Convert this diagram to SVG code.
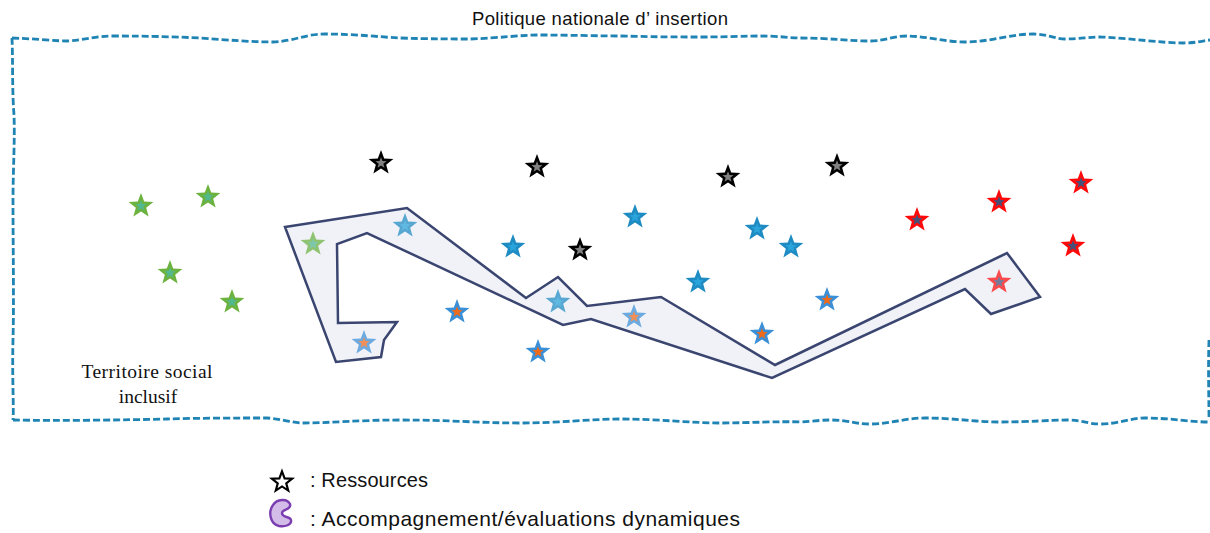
<svg xmlns="http://www.w3.org/2000/svg" xmlns:xlink="http://www.w3.org/1999/xlink" width="1210" height="533" viewBox="0 0 1210 533">
<style>
.border{fill:none;stroke:#1F84B4;stroke-width:2.8;stroke-dasharray:7 3}
.zone{fill:#F0F2F8;stroke:#3A4570;stroke-width:2.5;stroke-linejoin:miter}
.sans{font-family:"Liberation Sans",Arial,sans-serif;fill:#111}
.serif{font-family:"Liberation Serif","Times New Roman",serif;fill:#111}
.gO{fill:#6CB23E}.gI{fill:#52B890}
.kO{fill:#000}.kI{fill:#808080}
.bO{fill:#1E8BC3}.bI{fill:#2AA4DA}
.oO{fill:#3A8FD6}.oI{fill:#F06A1A}
.rO{fill:#FF0A0A}.rI{fill:#44507A}
.faded{opacity:0.72}
</style>
<defs>
<path id="star" d="M0,-13 L3.2,-4.4 L12.36,-4.02 L5.17,1.68 L7.64,10.52 L0,5.44 L-7.64,10.52 L-5.17,1.68 L-12.36,-4.02 L-3.2,-4.4 Z"/>
<path id="istar" d="M0,-13 L3.2,-4.4 L12.36,-4.02 L5.17,1.68 L7.64,10.52 L0,5.44 L-7.64,10.52 L-5.17,1.68 L-12.36,-4.02 L-3.2,-4.4 Z" transform="scale(0.45)"/>
</defs>

<g id="title"><text class="sans" x="600" y="25" font-size="18.5" text-anchor="middle" textLength="256">Politique nationale d’ insertion</text></g>

<g id="territoire-border">
<path class="border" d="M12,38 C40,39 55,41 67,41 C85,40 95,36 113,36 C150,36 180,37 200,38 C230,40 250,42 273,42 C295,41 305,34 325,34 C355,34 380,37 400,38 C430,39 455,39 470,39 C500,38 520,35 540,35 C570,35 600,36 620,36 C660,37 680,37 700,37 C730,37 745,36 760,36 C780,36 790,38 800,38 C830,38 850,41 870,41 C885,41 893,36 907,36 C925,36 945,42 965,42 C990,42 1010,34 1033,34 C1048,34 1055,39 1065,39 C1080,39 1088,37 1100,37 C1130,38 1160,43 1183,43 C1195,43 1202,41 1210,40"/>
<path class="border" d="M12,38 C13,60 12,90 14,115 C15,140 13,170 13,200 C13,250 14,300 13,340 C12,380 14,405 13,420"/>
<path class="border" d="M13,420 C60,421 120,420 167,419 C200,418 240,418 267,418 C282,419 290,422 300,423 C330,423 360,420 400,420 C450,420 480,423 520,423 C560,423 590,419 620,419 C660,419 690,423 720,423 C750,423 780,421 800,422 C815,421 822,420 830,420 C848,420 855,424 870,424 C890,424 905,418 925,418 C955,418 975,422 1000,422 C1030,422 1050,420 1067,420 C1082,420 1088,424 1100,424 C1118,424 1130,418 1145,418 C1170,418 1190,422 1210,422"/>
<path class="border" d="M1209,340 C1208,370 1209,400 1209,420"/>
</g>

<g id="territoire-label">
<text class="serif" x="147" y="378" font-size="19.5" text-anchor="middle" textLength="131">Territoire social</text>
<text class="serif" x="148" y="403" font-size="19.5" text-anchor="middle">inclusif</text>
</g>

<g id="accompagnement">
<path class="zone" d="M285,227 L407,208 L526,298 L558,277 L587,306 L661,297 L775,365 L1007,253 L1040,297 L991,314 L965,289 L772,378 L591,319 L563,325 L367,233 L337,244 L338,323 L397,322 L384,340 L381,357 L336,362 Z"/>
</g>

<g id="stars-green">
<g id="g1" transform="translate(141,206)"><use href="#star" class="gO"/><use href="#istar" class="gI"/></g>
<g id="g2" transform="translate(208,197)"><use href="#star" class="gO"/><use href="#istar" class="gI"/></g>
<g id="g3" transform="translate(170,273)"><use href="#star" class="gO"/><use href="#istar" class="gI"/></g>
<g id="g4" transform="translate(232,302)"><use href="#star" class="gO"/><use href="#istar" class="gI"/></g>
<g id="g5" class="faded" transform="translate(313,244)"><use href="#star" class="gO"/><use href="#istar" class="gI"/></g>
</g>

<g id="stars-black">
<g id="k1" transform="translate(381,163)"><use href="#star" class="kO"/><use href="#istar" class="kI"/></g>
<g id="k2" transform="translate(537,167)"><use href="#star" class="kO"/><use href="#istar" class="kI"/></g>
<g id="k3" transform="translate(580,250)"><use href="#star" class="kO"/><use href="#istar" class="kI"/></g>
<g id="k4" transform="translate(728,177)"><use href="#star" class="kO"/><use href="#istar" class="kI"/></g>
<g id="k5" transform="translate(837,166)"><use href="#star" class="kO"/><use href="#istar" class="kI"/></g>
</g>

<g id="stars-blue">
<g id="b1" class="faded" transform="translate(405,226)"><use href="#star" class="bO"/><use href="#istar" class="bI"/></g>
<g id="b2" transform="translate(513,247)"><use href="#star" class="bO"/><use href="#istar" class="bI"/></g>
<g id="b3" class="faded" transform="translate(558,302)"><use href="#star" class="bO"/><use href="#istar" class="bI"/></g>
<g id="b4" transform="translate(635,217)"><use href="#star" class="bO"/><use href="#istar" class="bI"/></g>
<g id="b5" transform="translate(698,282)"><use href="#star" class="bO"/><use href="#istar" class="bI"/></g>
<g id="b6" transform="translate(757,229)"><use href="#star" class="bO"/><use href="#istar" class="bI"/></g>
<g id="b7" transform="translate(791,247)"><use href="#star" class="bO"/><use href="#istar" class="bI"/></g>
</g>

<g id="stars-blue-orange">
<g id="o1" class="faded" transform="translate(364,343)"><use href="#star" class="oO"/><use href="#istar" class="oI"/></g>
<g id="o2" transform="translate(457,312)"><use href="#star" class="oO"/><use href="#istar" class="oI"/></g>
<g id="o3" transform="translate(538,352)"><use href="#star" class="oO"/><use href="#istar" class="oI"/></g>
<g id="o4" class="faded" transform="translate(634,317)"><use href="#star" class="oO"/><use href="#istar" class="oI"/></g>
<g id="o5" transform="translate(762,334)"><use href="#star" class="oO"/><use href="#istar" class="oI"/></g>
<g id="o6" transform="translate(827,300)"><use href="#star" class="oO"/><use href="#istar" class="oI"/></g>
</g>

<g id="stars-red">
<g id="r1" transform="translate(917,220)"><use href="#star" class="rO"/><use href="#istar" class="rI"/></g>
<g id="r2" transform="translate(999,202)"><use href="#star" class="rO"/><use href="#istar" class="rI"/></g>
<g id="r3" transform="translate(1081,183)"><use href="#star" class="rO"/><use href="#istar" class="rI"/></g>
<g id="r4" transform="translate(1073,246)"><use href="#star" class="rO"/><use href="#istar" class="rI"/></g>
<g id="r5" class="faded" transform="translate(999,282)"><use href="#star" class="rO"/><use href="#istar" class="rI"/></g>
</g>

<g id="legend">
<g id="legend-ressources">
<use href="#star" transform="translate(282,482) scale(0.82)" fill="#fff" stroke="#000" stroke-width="2.6"/>
<text class="sans" x="310" y="487" font-size="20" textLength="118">: Ressources</text>
</g>
<g id="legend-accompagnement">
<path d="M290,504 C287,498 277,499 273,505 C268,512 270,524 279,526 C285,527 292,525 291,520 C290,516 282,518 282,513 C282,509 292,510 290,504 Z" fill="#D3BDE8" stroke="#7B3FB2" stroke-width="2.4" stroke-linejoin="round"/>
<text class="sans" x="310" y="526" font-size="21" textLength="430">: Accompagnement/évaluations dynamiques</text>
</g>
</g>
</svg>
